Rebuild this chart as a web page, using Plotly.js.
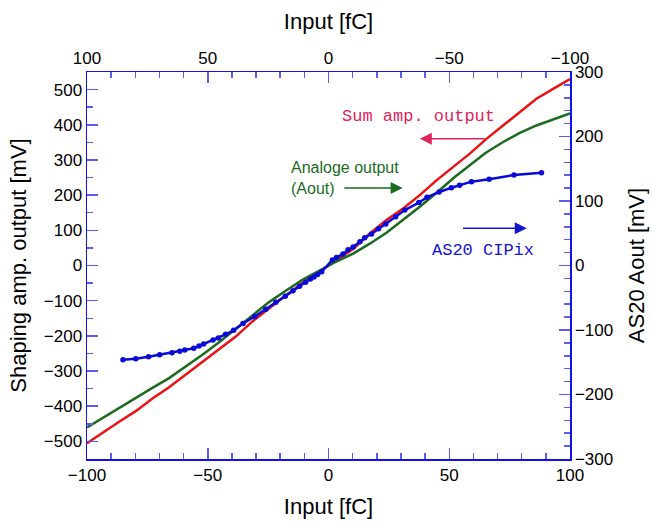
<!DOCTYPE html>
<html>
<head>
<meta charset="utf-8">
<script src="https://cdn.plot.ly/plotly-3.0.1.min.js"></script>
<style>html,body{margin:0;padding:0;background:#fff;}#chart{width:653px;height:522px;}</style>
</head>
<body>
<div id="chart"></div>
<script>
// Sum amp. output (left axis, mV) vs input charge (fC)
const sumX = [-100, -93.6, -86.7, -79.8, -72.9, -66, -59.1, -52.2, -45.3, -38.4, -31.5, -24.6, -17.7, -10.8, -3.9, 2.3, 10.2, 17.1, 24, 30.9, 37.8, 44.7, 51.6, 58.5, 65.4, 72.3, 79.2, 86.1, 93, 100];
const sumY = [-505, -475, -444, -414, -378, -346, -310, -274, -239, -202, -159, -121, -85, -50, -17.5, 10.8, 47, 91, 129, 162, 200, 242, 280, 318, 360, 398, 436, 474, 502, 530];

// Analoge output (Aout) (left axis, mV)
const aoutX = [-100, -93.6, -86.7, -79.8, -72.9, -66, -59.1, -52.2, -45.3, -38.4, -31.5, -24.6, -17.7, -10.8, -3.9, 2.3, 10.2, 17.1, 24, 30.9, 37.8, 46, 52, 58.5, 65, 72.3, 79, 86.1, 93, 100];
const aoutY = [-460, -433, -405, -376, -348, -320, -287, -254, -218, -180, -142, -104, -72, -41, -15, 8, 34, 62, 93, 129, 167, 214, 250, 285, 320, 351, 376, 398, 416, 432];

// AS20 CIPix (right axis, mV)
const cipixX = [-85.1, -79.8, -74.5, -69.9, -64.8, -61.6, -59.5, -55.8, -53.6, -51.7, -47.8, -45.6, -42.6, -39.3, -35.4, -30.5, -26, -21.8, -17.9, -14.7, -12, -9.5, -7.5, -6, -4.5, -2.8, 1.6, 3.3, 6, 8.1, 10.2, 13, 15, 17.8, 20.7, 23.7, 27.8, 31.6, 37.4, 40.8, 45.8, 50.9, 54.3, 59.2, 66.5, 76.8, 88.2];
const cipixY = [-146, -144.5, -141.4, -138.3, -135.2, -133, -131, -128.4, -124.8, -121.7, -115.5, -112.4, -106.7, -100.5, -90, -79, -68, -57, -47.5, -39.3, -32, -26, -21, -18, -14, -9.5, 8.5, 12.5, 18, 24.5, 28.6, 36.9, 43, 48.8, 57, 64.3, 75.7, 86, 97.5, 105.7, 114, 120.6, 124.3, 130, 133.6, 140.3, 143.9];

// Tick values
const bottomTicks = [-100, -50, 0, 50, 100];
const leftTicks = [-500, -400, -300, -200, -100, 0, 100, 200, 300, 400, 500];
const rightTicks = [-300, -200, -100, 0, 100, 200, 300];

const lineCol = '#1010e8';
const tickCol = '#5c5cf0';
const tickFont = {family: 'Liberation Sans, Arial, sans-serif', size: 17, color: '#000'};
const titleFont = {family: 'Liberation Sans, Arial, sans-serif', size: 22, color: '#000'};

const traces = [
  {x: sumX, y: sumY, type: 'scatter', mode: 'lines', line: {color: '#ee1111', width: 2.5}, xaxis: 'x', yaxis: 'y', hoverinfo: 'skip'},
  {x: aoutX, y: aoutY, type: 'scatter', mode: 'lines', line: {color: '#1b6a1e', width: 2.5}, xaxis: 'x', yaxis: 'y', hoverinfo: 'skip'},
  {x: cipixX, y: cipixY, type: 'scatter', mode: 'lines+markers', line: {color: '#0a0ad8', width: 2.5}, marker: {color: '#0a0ad8', size: 5.5}, xaxis: 'x', yaxis: 'y2', hoverinfo: 'skip'},
  {x: [0], y: [0], type: 'scatter', mode: 'markers', marker: {opacity: 0}, xaxis: 'x2', yaxis: 'y', hoverinfo: 'skip', showlegend: false}
];

const axBase = {
  showgrid: false, zeroline: false, showline: true, linecolor: lineCol, linewidth: 1.5,
  ticks: 'inside', ticklen: 11, tickwidth: 1.5, tickcolor: tickCol, tickfont: tickFont,
  mirror: false
};

const layout = {
  width: 653, height: 522,
  margin: {l: 87, r: 83, t: 72, b: 63},
  paper_bgcolor: '#fff', plot_bgcolor: '#fff',
  showlegend: false,
  xaxis: Object.assign({}, axBase, {
    range: [-100, 100], tickvals: bottomTicks, side: 'bottom',
    minor: {dtick: 10, ticklen: 6, tickcolor: tickCol, tickwidth: 1.5, ticks: 'inside'},
    title: {text: 'Input [fC]', font: titleFont, standoff: 14}
  }),
  xaxis2: Object.assign({}, axBase, {
    range: [100, -100], tickvals: bottomTicks, side: 'top', overlaying: 'x', anchor: 'y',
    minor: {dtick: 10, ticklen: 6, tickcolor: tickCol, tickwidth: 1.5, ticks: 'inside'},
    title: {text: 'Input [fC]', font: titleFont, standoff: 13}
  }),
  yaxis: Object.assign({}, axBase, {
    range: [-550, 550], tickvals: leftTicks, side: 'left',
    minor: {dtick: 50, ticklen: 6, tickcolor: tickCol, tickwidth: 1.5, ticks: 'inside'},
    title: {text: 'Shaping amp. output [mV]', font: titleFont, standoff: 11}
  }),
  yaxis2: Object.assign({}, axBase, {
    range: [-300, 300], tickvals: rightTicks, side: 'right', overlaying: 'y', anchor: 'x',
    minor: {dtick: 20, ticklen: 6, tickcolor: tickCol, tickwidth: 1.5, ticks: 'inside'},
    title: {text: 'AS20 Aout [mV]', font: titleFont, standoff: 16}
  }),
  annotations: [
    {xref: 'x', yref: 'y', x: 37.3, y: 424, text: 'Sum amp. output', showarrow: false,
     font: {family: 'Liberation Mono, DejaVu Sans Mono, monospace', size: 17, color: '#e0245e'}},
    {xref: 'x', yref: 'y', x: 37.8, y: 360, ax: 65.4, ay: 360, axref: 'x', ayref: 'y', text: '',
     showarrow: true, arrowhead: 2, arrowsize: 1.6, arrowwidth: 1.5, arrowcolor: '#e0245e'},
    {xref: 'x', yref: 'y', x: -16.3, y: 248, xanchor: 'left', align: 'left', text: 'Analoge output<br>(Aout)', showarrow: false,
     font: {family: 'Liberation Sans, Arial, sans-serif', size: 16, color: '#1b6a1e'}},
    {xref: 'x', yref: 'y', x: 30.7, y: 220, ax: 5.9, ay: 220, axref: 'x', ayref: 'y', text: '',
     showarrow: true, arrowhead: 2, arrowsize: 1.6, arrowwidth: 1.5, arrowcolor: '#1b6a1e'},
    {xref: 'x', yref: 'y', x: 63.9, y: 44, text: 'AS20 CIPix', showarrow: false,
     font: {family: 'Liberation Mono, DejaVu Sans Mono, monospace', size: 17, color: '#1515d0'}},
    {xref: 'x', yref: 'y', x: 82.1, y: 106, ax: 55.1, ay: 106, axref: 'x', ayref: 'y', text: '',
     showarrow: true, arrowhead: 2, arrowsize: 1.6, arrowwidth: 1.5, arrowcolor: '#1515d0'}
  ]
};

Plotly.newPlot('chart', traces, layout, {staticPlot: true, displayModeBar: false});
</script>
</body>
</html>
